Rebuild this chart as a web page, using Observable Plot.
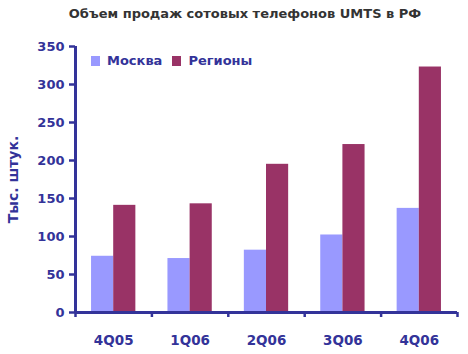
<!DOCTYPE html>
<html>
<head>
<meta charset="utf-8">
<script src="https://cdn.jsdelivr.net/npm/d3@7"></script>
<script src="https://cdn.jsdelivr.net/npm/@observablehq/plot@0.6"></script>
<style>
  html, body { margin: 0; padding: 0; background: #fff; }
  #wrap { position: relative; width: 468px; height: 354px; font-family: "DejaVu Sans", Verdana, sans-serif; }
  #title { position: absolute; left: 0; top: 6px; width: 490px; text-align: center; font-weight: bold; font-size: 13px; color: #333; }
  #legend { position: absolute; left: 91px; top: 53px; display: flex; align-items: center; font-weight: bold; font-size: 13px; color: #333399; }
  #legend .sw { display: inline-block; width: 9px; height: 10px; margin-right: 7px; }
  #legend .item { display: flex; align-items: center; margin-right: 10px; }
  #chart { position: absolute; left: 0; top: 0; }
</style>
</head>
<body>
<div id="wrap">
  <div id="chart"></div>
  <div id="title"></div>
  <div id="legend"></div>
</div>
<script>
const title = "Объем продаж сотовых телефонов UMTS в РФ";
const yLabel = "Тыс. штук.";
const categories = ["4Q05", "1Q06", "2Q06", "3Q06", "4Q06"];
const seriesNames = ["Москва", "Регионы"];
const moscow = [74, 71, 82, 102, 137];
const regions = [141, 143, 195, 221, 323];
const colors = ["#9999FF", "#993366"];
const yTicks = [0, 50, 100, 150, 200, 250, 300, 350];

const seriesValues = [moscow, regions];
const groupWidth = 0.58;
const barW = groupWidth / seriesNames.length;
const data = [];
categories.forEach((c, i) => {
  seriesValues.forEach((vals, s) => {
    const x1 = i + 0.5 - groupWidth / 2 + s * barW;
    data.push({category: c, series: seriesNames[s], value: vals[i], x1, x2: x1 + barW});
  });
});

const axisColor = "#333399";
const chart = Plot.plot({
  width: 468,
  height: 354,
  marginTop: 46,
  marginBottom: 42,
  marginLeft: 75,
  marginRight: 11,
  style: {fontFamily: "DejaVu Sans, Verdana, sans-serif", fontSize: "13px", fontWeight: "bold", color: axisColor, background: "#fff"},
  x: {domain: [0, categories.length]},
  y: {domain: [0, 350]},
  color: {domain: seriesNames, range: colors},
  marks: [
    Plot.rectY(data, {x1: "x1", x2: "x2", y1: 0, y2: "value", fill: "series"}),
    Plot.axisY({ticks: yTicks, tickSize: 6, tickPadding: 5, stroke: axisColor, strokeWidth: 2.5, fill: axisColor, fontSize: 13, label: null}),
    Plot.axisX({ticks: d3.range(categories.length + 1), tickSize: 5, tickFormat: () => "", stroke: axisColor, strokeWidth: 2.5, label: null}),
    Plot.axisX({ticks: categories.map((c, i) => i + 0.5), tickSize: 0, tickPadding: 23, tickFormat: (d) => categories[Math.floor(d)], fill: axisColor, fontSize: 13.5, label: null}),
    Plot.ruleX([0], {stroke: axisColor, strokeWidth: 3}),
    Plot.ruleY([0], {stroke: axisColor, strokeWidth: 3}),
    Plot.text([yLabel], {frameAnchor: "left", textAnchor: "middle", dx: -62, rotate: -90, fill: axisColor, fontSize: 14, fontWeight: "bold"})
  ]
});
document.getElementById("chart").appendChild(chart);
document.getElementById("title").textContent = title;
const leg = document.getElementById("legend");
seriesNames.forEach((n, i) => {
  const it = document.createElement("span");
  it.className = "item";
  const sw = document.createElement("span");
  sw.className = "sw";
  sw.style.background = colors[i];
  it.appendChild(sw);
  it.appendChild(document.createTextNode(n));
  leg.appendChild(it);
});
</script>
</body>
</html>
